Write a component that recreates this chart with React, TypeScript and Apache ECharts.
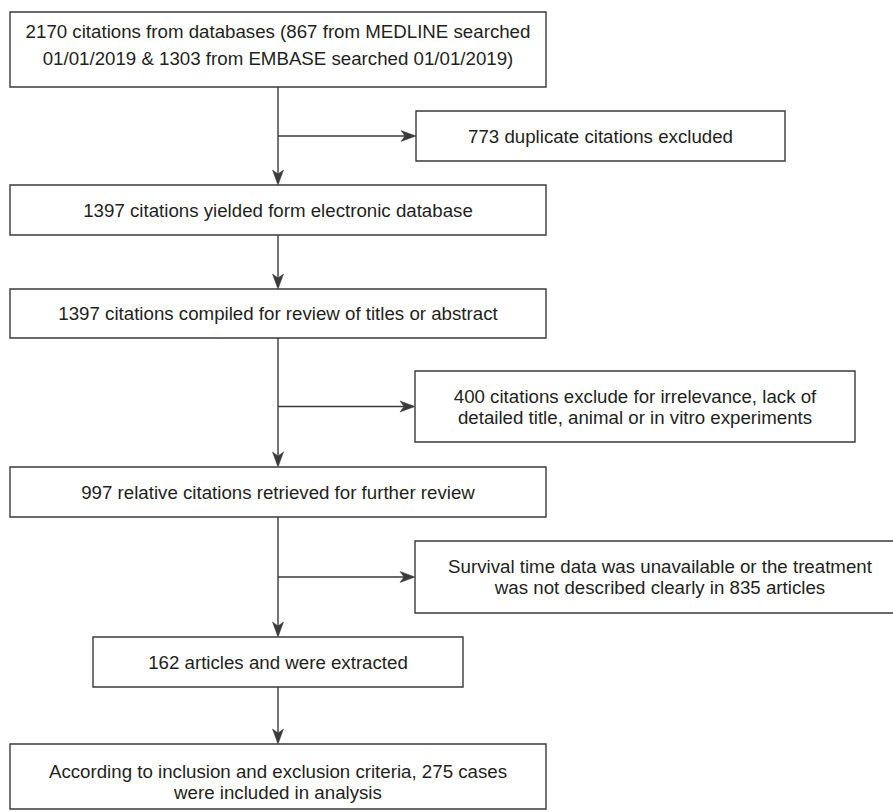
import React, { useEffect, useRef } from "react";
import * as echarts from "echarts";

// ---- Data: flowchart steps (text content) ----
const mainSteps: string[] = [
  "2170 citations from databases (867 from MEDLINE searched\n01/01/2019 & 1303 from EMBASE searched 01/01/2019)",
  "1397 citations yielded form electronic database",
  "1397 citations compiled for review of titles or abstract",
  "997 relative citations retrieved for further review",
  "162 articles and were extracted",
  "According to inclusion and exclusion criteria, 275 cases\nwere included in analysis",
];
const exclusionSteps: string[] = [
  "773 duplicate citations excluded",
  "400 citations exclude for irrelevance, lack of\ndetailed title, animal or in vitro experiments",
  "Survival time data was unavailable or the treatment\nwas not described clearly in 835 articles",
];

// ---- Layout (positions kept separate from data) ----
const mainBoxes = [
  { x: 10, y: 12, w: 536, h: 75, lh: 27, dy: -5 },
  { x: 10, y: 185, w: 536, h: 50, lh: 21, dy: 0 },
  { x: 10, y: 289, w: 536, h: 49, lh: 21, dy: 0 },
  { x: 10, y: 467, w: 536, h: 50, lh: 21, dy: 0 },
  { x: 93, y: 637, w: 370, h: 50, lh: 21, dy: 0 },
  { x: 10, y: 744, w: 536, h: 65, lh: 21, dy: 5 },
];
const sideBoxes = [
  { x: 416, y: 111, w: 369, h: 50, lh: 21, dy: 0 },
  { x: 415, y: 371, w: 440, h: 71, lh: 21, dy: 0 },
  { x: 415, y: 541, w: 490, h: 72, lh: 21, dy: 0 },
];
const SPINE_X = 278;

const LINE = "#3a3a3a";
const TEXT = "#231f20";
const FONT = "Liberation Sans, Arial, Helvetica, sans-serif";
const FS = 18.7;

function arrowDown(x: number, y: number) {
  return {
    type: "polygon",
    shape: { points: [[x, y], [x - 5.5, y - 15], [x, y - 11], [x + 5.5, y - 15]] },
    style: { fill: LINE, stroke: LINE, lineWidth: 0.5 },
  };
}
function arrowRight(x: number, y: number) {
  return {
    type: "polygon",
    shape: { points: [[x, y], [x - 15, y - 5.5], [x - 11, y], [x - 15, y + 5.5]] },
    style: { fill: LINE, stroke: LINE, lineWidth: 0.5 },
  };
}
function box(b: { x: number; y: number; w: number; h: number; lh: number; dy: number }, text: string) {
  return [
    {
      type: "rect",
      shape: { x: b.x, y: b.y, width: b.w, height: b.h },
      style: { fill: "#fff", stroke: LINE, lineWidth: 1.4 },
    },
    {
      type: "text",
      style: {
        text,
        x: b.x + b.w / 2,
        y: b.y + b.h / 2 + b.dy,
        align: "center",
        verticalAlign: "middle",
        fontFamily: FONT,
        fontSize: FS,
        lineHeight: b.lh,
        fill: TEXT,
      },
    },
  ];
}

export default function App() {
  const ref = useRef<HTMLDivElement>(null);
  useEffect(() => {
    document.body.style.margin = "0";
    if (!ref.current) return;
    const chart = echarts.init(ref.current, null, { renderer: "svg" });
    const els: any[] = [];

    for (let i = 0; i < mainBoxes.length - 1; i++) {
      const a = mainBoxes[i];
      const b = mainBoxes[i + 1];
      els.push({
        type: "line",
        shape: { x1: SPINE_X, y1: a.y + a.h, x2: SPINE_X, y2: b.y - 2 },
        style: { stroke: LINE, lineWidth: 1.4 },
      });
      els.push(arrowDown(SPINE_X, b.y));
    }
    exclusionSteps.forEach((_, k) => {
      const s = sideBoxes[k];
      const yb = s.y + s.h / 2;
      els.push({
        type: "line",
        shape: { x1: SPINE_X, y1: yb, x2: s.x - 2, y2: yb },
        style: { stroke: LINE, lineWidth: 1.4 },
      });
      els.push(arrowRight(s.x, yb));
    });
    mainSteps.forEach((t, i) => els.push(...box(mainBoxes[i], t)));
    exclusionSteps.forEach((t, i) => els.push(...box(sideBoxes[i], t)));

    chart.setOption({
      animation: false,
      backgroundColor: "#fff",
      graphic: { elements: els },
    });
    return () => chart.dispose();
  }, []);
  return <div ref={ref} style={{ width: 893, height: 812 }} />;
}
